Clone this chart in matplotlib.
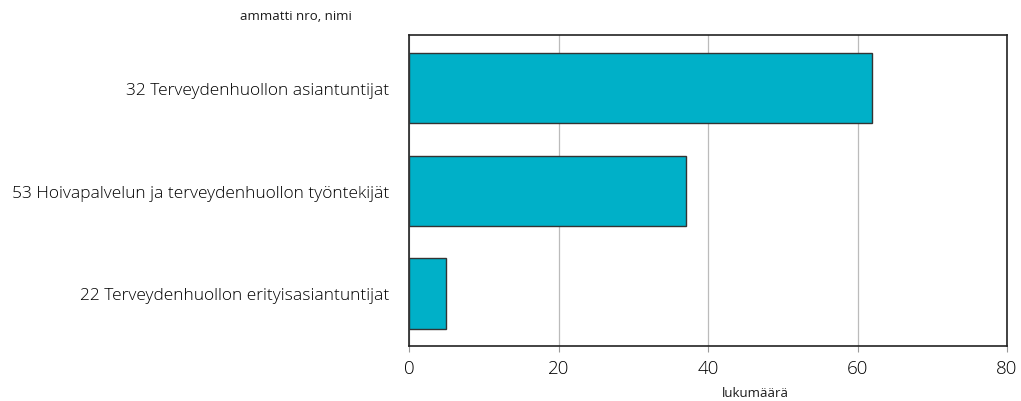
import matplotlib
matplotlib.use("Agg")
import matplotlib.pyplot as plt

plt.rcParams['font.family'] = ['Open Sans', 'DejaVu Sans']

# data (top to bottom as shown)
ammatit = [
    "32 Terveydenhuollon asiantuntijat",
    "53 Hoivapalvelun ja terveydenhuollon työntekijät",
    "22 Terveydenhuollon erityisasiantuntijat",
]
lukumaara = [62, 37, 5]
x_ticks = [0, 20, 40, 60, 80]

fig = plt.figure(figsize=(10.21, 4.02), dpi=100)
ax = fig.add_axes([0.4006, 0.1368, 0.5857, 0.7736])

ypos = list(range(len(ammatit)))[::-1]
ax.barh(ypos, lukumaara, height=0.68, color="#00B0C8", edgecolor="#333333", linewidth=1.0, zorder=3)

ax.set_xlim(0, 80)
ax.set_ylim(-0.51, 2.51)
ax.set_xticks(x_ticks)
ax.set_yticks(ypos)
ax.set_yticklabels(ammatit, fontsize=12.5, fontweight="light", color="black")
ax.tick_params(axis="y", length=0, pad=14)
ax.tick_params(axis="x", length=4, width=0.8, color="#999999", labelsize=13.5, pad=5, labelcolor="black")
for lbl in ax.get_xticklabels():
    lbl.set_fontweight("light")
ax.grid(axis="x", color="#bbbbbb", linewidth=0.9, zorder=0)
for s in ax.spines.values():
    s.set_linewidth(1.2)
    s.set_color("#222222")

fig.text(0.29, 0.96, "ammatti nro, nimi", fontsize=9.5, ha="center", va="center", color="#1a1a1a")
fig.text(0.74, 0.022, "lukumäärä", fontsize=9.5, ha="center", va="center", color="#1a1a1a")

fig.savefig("out.png", dpi=100)
